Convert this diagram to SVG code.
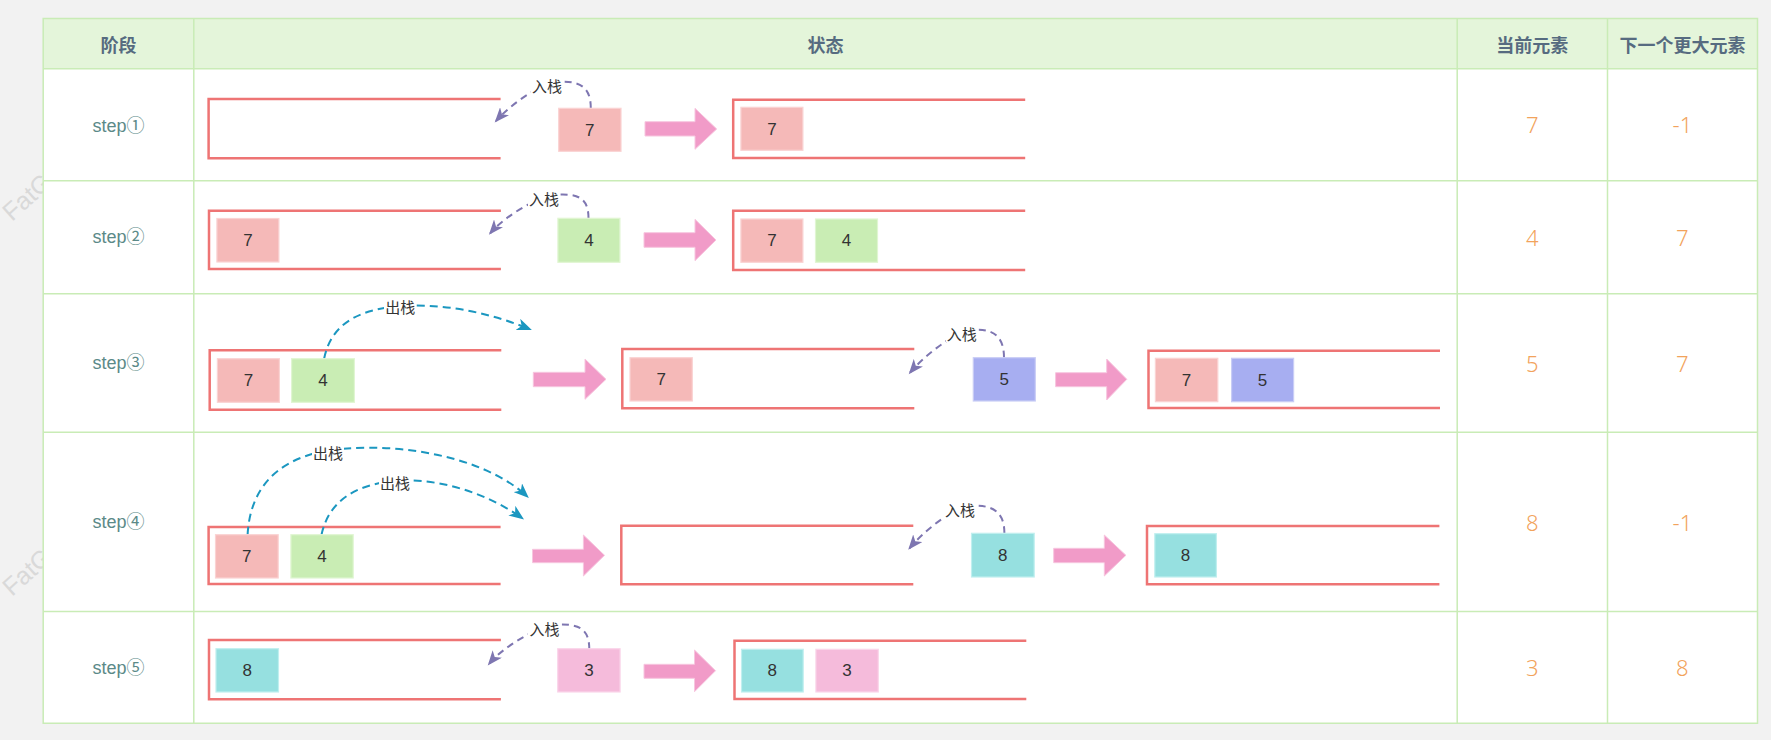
<svg xmlns="http://www.w3.org/2000/svg" width="1771" height="740" viewBox="0 0 1771 740">
<style>
.grid{stroke:#c9ecb6;stroke-width:1.5;fill:none}
.hdr{font-family:"Noto Sans CJK SC","Liberation Sans",sans-serif;font-size:18px;font-weight:bold;fill:#566b80;text-anchor:middle;dominant-baseline:central}
.step{font-family:"Liberation Sans","Noto Sans CJK SC",sans-serif;font-size:18px;fill:#5b8a88;text-anchor:middle;dominant-baseline:central}
.val{font-family:"Noto Sans","Liberation Sans",sans-serif;font-size:22px;font-weight:300;fill:#f2a35c;text-anchor:middle;dominant-baseline:central}
.stk{stroke:#ee7474;stroke-width:2.5;fill:none}
.bx{stroke-width:1.2}
.r{fill:#f5b9b8;stroke:#fad3d3}
.g{fill:#c9edb4;stroke:#e0f6d2}
.b{fill:#a7aef1;stroke:#c9cdf6}
.c{fill:#96e0e0;stroke:#c0efef}
.p{fill:#f5bbdb;stroke:#fad6ea}
.num{font-family:"Liberation Sans",sans-serif;font-size:17px;fill:#333;text-anchor:middle;dominant-baseline:central}
.blk{fill:#f19bc8;stroke:#f7c6df;stroke-width:1}
.push{stroke:#7e76b1;stroke-width:2;stroke-dasharray:7 5;fill:none}
.pop{stroke:#1b97c0;stroke-width:2;stroke-dasharray:8 5;fill:none}
.lbl{font-family:"Noto Sans CJK SC",sans-serif;font-size:15px;fill:#333;text-anchor:middle;dominant-baseline:central}
.lbg{fill:#fff}
.wm{font-family:"Liberation Sans",sans-serif;font-size:25px;fill:#d9d9d9}
</style>
<defs>
<marker id="mp" markerUnits="userSpaceOnUse" markerWidth="16" markerHeight="12" refX="13" refY="6" orient="auto"><path d="M0,0 L15,6 L0,12 L4,6 z" fill="#7e76b1"/></marker>
<marker id="mb" markerUnits="userSpaceOnUse" markerWidth="16" markerHeight="12" refX="13" refY="6" orient="auto"><path d="M0,0 L15,6 L0,12 L4,6 z" fill="#1b97c0"/></marker>
</defs>
<rect width="1771" height="740" fill="#f2f2f2"/>
<g id="watermark">
<text class="wm" transform="translate(12,222) rotate(-42)">FatG</text>
<text class="wm" transform="translate(12,597) rotate(-42)">FatG</text>
</g>
<g id="table">
<rect x="43.2" y="18.5" width="1714.3" height="704.7" fill="#fff"/>
<rect x="43.2" y="18.5" width="1714.3" height="50.2" fill="#e4f5da"/>
<path class="grid" d="M43.2,18.5 H1757.5 V723.2 H43.2 Z M43.2,68.7 H1757.5 M43.2,180.7 H1757.5 M43.2,293.7 H1757.5 M43.2,432.3 H1757.5 M43.2,611.5 H1757.5 M193.8,18.5 V723.2 M1457.2,18.5 V723.2 M1607.5,18.5 V723.2"/>
<text class="hdr" x="118.5" y="43.5">阶段</text>
<text class="hdr" x="825.5" y="43.5">状态</text>
<text class="hdr" x="1532.3" y="43.5">当前元素</text>
<text class="hdr" x="1682.4" y="43.5">下一个更大元素</text>
<text class="step" x="118.5" y="126">step①</text>
<text class="step" x="118.5" y="237">step②</text>
<text class="step" x="118.5" y="363">step③</text>
<text class="step" x="118.5" y="522">step④</text>
<text class="step" x="118.5" y="668">step⑤</text>
<text class="val" x="1532.3" y="124">7</text>
<text class="val" x="1682.4" y="124">-1</text>
<text class="val" x="1532.3" y="237">4</text>
<text class="val" x="1682.4" y="237">7</text>
<text class="val" x="1532.3" y="363">5</text>
<text class="val" x="1682.4" y="363">7</text>
<text class="val" x="1532.3" y="522">8</text>
<text class="val" x="1682.4" y="522">-1</text>
<text class="val" x="1532.3" y="667">3</text>
<text class="val" x="1682.4" y="667">8</text>
</g>
<g id="stacks">
<path class="stk" d="M500.6,99 H208.6 V158.3 H500.6"/>
<path class="stk" d="M1025.2,99.7 H733.2 V158 H1025.2"/>
<path class="stk" d="M500.9,210.7 H209 V269 H500.9"/>
<path class="stk" d="M1025.2,210.7 H733.2 V270 H1025.2"/>
<path class="stk" d="M501.3,350.3 H209.7 V409.7 H501.3"/>
<path class="stk" d="M914.3,349 H622.3 V408.3 H914.3"/>
<path class="stk" d="M1440,350.7 H1148.5 V408 H1440"/>
<path class="stk" d="M500.6,527 H208.6 V584 H500.6"/>
<path class="stk" d="M913.3,525.7 H621.3 V584.3 H913.3"/>
<path class="stk" d="M1439.4,526 H1147 V584.3 H1439.4"/>
<path class="stk" d="M500.9,640 H209 V699.3 H500.9"/>
<path class="stk" d="M1026.3,640.7 H734.5 V699 H1026.3"/>
</g>
<g id="connectors">
<path class="push" d="M590.8,108.3 C590.8,86 579,80 555,82 C537,86 510,105 496,121" marker-end="url(#mp)"/>
<path class="push" d="M588.5,218.3 C588.5,196 576,193 552,195 C534,199 504,217 490.2,233.3" marker-end="url(#mp)"/>
<path class="pop" d="M324.1,358.7 C330,330 350,310 400,306 C450,303 495,315 530,329.3" marker-end="url(#mb)"/>
<path class="push" d="M1004,357.7 C1004,335 992,328 970,330 C952,334 924,356 910,372.7" marker-end="url(#mp)"/>
<path class="pop" d="M247.6,534.7 C250,490 275,462 320,452 C380,440 480,452 527.4,496.7" marker-end="url(#mb)"/>
<path class="pop" d="M321.5,534.7 C328,505 350,485 395,481 C440,477 490,495 522.4,518.3" marker-end="url(#mb)"/>
<path class="push" d="M1004.4,533.3 C1004.4,511 992,504 968,506 C950,510 923,532 909.5,548.3" marker-end="url(#mp)"/>
<path class="push" d="M589.3,649.3 C589.3,627 577,623 552,625 C534,629 503,647 489,664" marker-end="url(#mp)"/>
<rect class="lbg" x="531" y="77" width="32" height="17"/><text class="lbl" x="547" y="85">入栈</text>
<rect class="lbg" x="528" y="190" width="32" height="17"/><text class="lbl" x="544" y="198">入栈</text>
<rect class="lbg" x="384" y="298" width="32" height="17"/><text class="lbl" x="400.3" y="306.5">出栈</text>
<rect class="lbg" x="946" y="325" width="32" height="17"/><text class="lbl" x="961.7" y="333.3">入栈</text>
<rect class="lbg" x="312" y="444" width="32" height="17"/><text class="lbl" x="328" y="452.7">出栈</text>
<rect class="lbg" x="379" y="474" width="32" height="17"/><text class="lbl" x="395" y="482.3">出栈</text>
<rect class="lbg" x="944" y="501" width="32" height="17"/><text class="lbl" x="960" y="509">入栈</text>
<rect class="lbg" x="528" y="620" width="32" height="17"/><text class="lbl" x="544.4" y="628.3">入栈</text>
</g>
<g id="bigarrows">
<polygon class="blk" points="645,121.7 695,121.7 695,108.3 716.7,129 695,149.3 695,136 645,136"/>
<polygon class="blk" points="644,232.7 695,232.7 695,219.3 716,240 695,260.7 695,247.3 644,247.3"/>
<polygon class="blk" points="533.3,372.3 585,372.3 585,359 606,379.3 585,399.3 585,386.7 533.3,386.7"/>
<polygon class="blk" points="1055.6,372.7 1106.7,372.7 1106.7,359 1126.8,379.3 1106.7,400 1106.7,386.7 1055.6,386.7"/>
<polygon class="blk" points="532.5,549.3 583.4,549.3 583.4,535 604.5,555.3 583.4,576 583.4,562.7 532.5,562.7"/>
<polygon class="blk" points="1053.7,548.3 1104.3,548.3 1104.3,535 1125.9,555.3 1104.3,576 1104.3,562.7 1053.7,562.7"/>
<polygon class="blk" points="644,664.3 694.5,664.3 694.5,650 715.5,670.7 694.5,691.7 694.5,678.3 644,678.3"/>
</g>
<g id="n-r1-in"><rect class="bx r" x="558.7" y="108.3" width="62.3" height="43"/><text class="num" x="589.8" y="130">7</text></g>
<g id="n-r1-s1"><rect class="bx r" x="740.9" y="107.3" width="62" height="43"/><text class="num" x="771.9" y="129">7</text></g>
<g id="n-r2-a1"><rect class="bx r" x="216.9" y="218.5" width="62" height="43.5"/><text class="num" x="247.9" y="240">7</text></g>
<g id="n-r2-in"><rect class="bx g" x="557.9" y="218.3" width="62" height="44"/><text class="num" x="588.9" y="240">4</text></g>
<g id="n-r2-b1"><rect class="bx r" x="740.9" y="219" width="62" height="43.3"/><text class="num" x="771.9" y="240.5">7</text></g>
<g id="n-r2-b2"><rect class="bx g" x="815.5" y="219" width="62" height="43.3"/><text class="num" x="846.5" y="240.5">4</text></g>
<g id="n-r3-a1"><rect class="bx r" x="217.4" y="358.7" width="62" height="43.6"/><text class="num" x="248.4" y="380.5">7</text></g>
<g id="n-r3-a2"><rect class="bx g" x="291.6" y="358.7" width="62.8" height="43.6"/><text class="num" x="323" y="380.5">4</text></g>
<g id="n-r3-m1"><rect class="bx r" x="630" y="357.7" width="62.3" height="43.3"/><text class="num" x="661.2" y="379.3">7</text></g>
<g id="n-r3-in"><rect class="bx b" x="973.3" y="357.7" width="62" height="43.3"/><text class="num" x="1004.3" y="379.3">5</text></g>
<g id="n-r3-b1"><rect class="bx r" x="1155.4" y="358.3" width="62.4" height="43.4"/><text class="num" x="1186.6" y="380">7</text></g>
<g id="n-r3-b2"><rect class="bx b" x="1231.6" y="358.3" width="62" height="43.4"/><text class="num" x="1262.6" y="380">5</text></g>
<g id="n-r4-a1"><rect class="bx r" x="215.5" y="534.7" width="62.7" height="43.3"/><text class="num" x="246.8" y="556.3">7</text></g>
<g id="n-r4-a2"><rect class="bx g" x="290.9" y="534.7" width="62.3" height="43.3"/><text class="num" x="322" y="556.3">4</text></g>
<g id="n-r4-in"><rect class="bx c" x="971.5" y="533.3" width="62.7" height="43.7"/><text class="num" x="1002.8" y="555.2">8</text></g>
<g id="n-r4-b1"><rect class="bx c" x="1154.8" y="533.7" width="61.6" height="43.3"/><text class="num" x="1185.6" y="555.3">8</text></g>
<g id="n-r5-a1"><rect class="bx c" x="216" y="648.7" width="62.5" height="43.3"/><text class="num" x="247.2" y="670.3">8</text></g>
<g id="n-r5-in"><rect class="bx p" x="557.7" y="648.7" width="62.4" height="43.3"/><text class="num" x="588.9" y="670.3">3</text></g>
<g id="n-r5-b1"><rect class="bx c" x="741.5" y="649.3" width="61.7" height="42.7"/><text class="num" x="772.3" y="670.7">8</text></g>
<g id="n-r5-b2"><rect class="bx p" x="815.9" y="649.3" width="62.4" height="42.7"/><text class="num" x="847.1" y="670.7">3</text></g>
</svg>
